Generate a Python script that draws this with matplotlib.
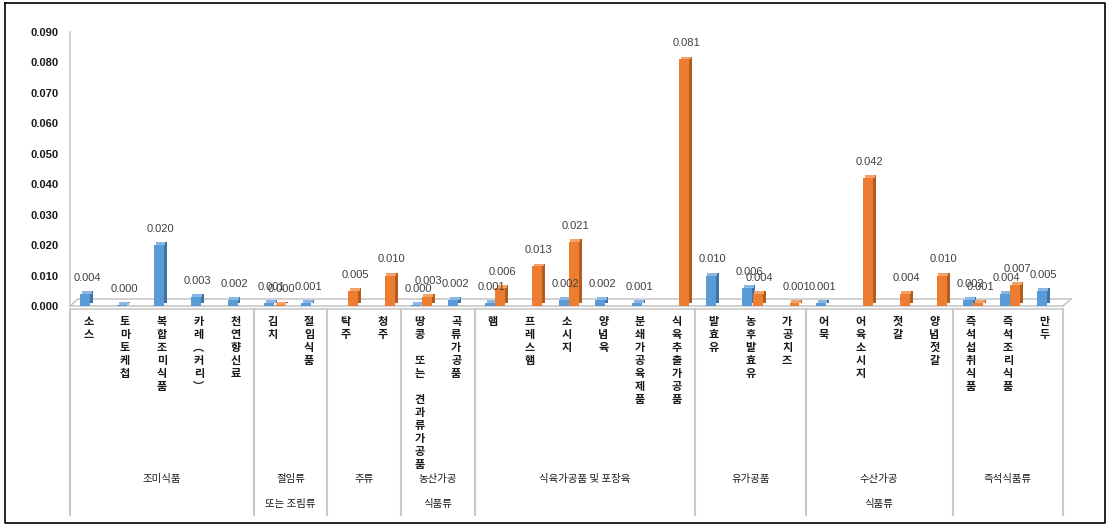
import numpy as np
from matplotlib import pyplot as plt
from matplotlib import transforms

plt.rcParams['font.family'] = ['Noto Sans CJK KR', 'DejaVu Sans']

# 카테고리 (하위) 와 그룹 (상위)
categories = ['소스', '토마토케첩', '복합조미식품', '카레︵커리︶', '천연향신료',
              '김치', '절임식품',
              '탁주', '청주',
              '땅콩 또는 견과류가공품', '곡류가공품',
              '햄', '프레스햄', '소시지', '양념육', '분쇄가공육제품', '식육추출가공품',
              '발효유', '농후발효유', '가공치즈',
              '어묵', '어육소시지', '젓갈', '양념젓갈',
              '즉석섭취식품', '즉석조리식품', '만두']
groups = ['조미식품', '절임류\n또는 조림류', '주류', '농산가공\n식품류',
          '식육가공품 및 포장육', '유가공품', '수산가공\n식품류', '즉석식품류']
group_sizes = [5, 2, 2, 2, 6, 3, 4, 3]

nan = np.nan
blue = [0.004, 0.0003, 0.020, 0.003, 0.002,
        0.001, 0.001,
        nan, nan,
        0.0003, 0.002,
        0.001, nan, 0.002, 0.002, 0.001, nan,
        0.010, 0.006, nan,
        0.001, nan, nan, nan,
        0.002, 0.004, 0.005]
orange = [nan, nan, nan, nan, nan,
          0.0003, nan,
          0.005, 0.010,
          0.003, nan,
          0.006, 0.013, 0.021, nan, nan, 0.081,
          nan, 0.004, 0.001,
          nan, 0.042, 0.004, 0.010,
          0.001, 0.007, nan]
blue_labels = ['0.004', '0.000', '0.020', '0.003', '0.002', '0.001', '0.001', '', '',
               '0.000', '0.002', '0.001', '', '0.002', '0.002', '0.001', '',
               '0.010', '0.006', '', '0.001', '', '', '', '0.002', '0.004', '0.005']
orange_labels = ['', '', '', '', '', '0.000', '', '0.005', '0.010', '0.003', '',
                 '0.006', '0.013', '0.021', '', '', '0.081', '', '0.004', '0.001',
                 '', '0.042', '0.004', '0.010', '0.001', '0.007', '']

num_font = ['Liberation Sans Narrow', 'Liberation Sans', 'DejaVu Sans']

W, H = 1108, 526
fig = plt.figure(figsize=(W / 100, H / 100), dpi=100)
deco = fig.add_axes([0, 0, 1, 1], zorder=0)
deco.set_xlim(0, W)
deco.set_ylim(H, 0)
deco.axis('off')

ax_l, ax_r, ax_top, ax_bot = 70, 1063, 32, 306
ax = fig.add_axes([ax_l / W, (H - ax_bot) / H, (ax_r - ax_l) / W, (ax_bot - ax_top) / H], zorder=1)
ax.patch.set_alpha(0)
n = len(categories)
x = np.arange(n)
ax.set_xlim(-0.5, n - 0.5)
ax.set_ylim(0, 0.09)
yt = np.arange(0, 0.0901, 0.01)
ax.set_yticks(yt)
ax.set_yticklabels([f'{v:.3f}' for v in yt], family=num_font, fontsize=8,
                   fontweight='bold', color='#1a1a1a')
ax.tick_params(axis='y', length=0, pad=8)
ax.set_xticks([])
for s in ['top', 'right', 'bottom']:
    ax.spines[s].set_visible(False)
ax.spines['left'].set_color('#c8c8c8')
ax.spines['left'].set_linewidth(1.2)

w, sw, depth = 0.27, 0.08, 0.0009
series = [(blue, blue_labels, -0.08, '#5b9bd5', '#3f73a6', '#8ab8e6'),
          (orange, orange_labels, 0.2, '#ed7d31', '#b35c1f', '#f4a266')]
for vals, labs, off, c, dark, light in series:
    vals = np.array(vals)
    ax.bar(x + off, vals, width=w, color=c, zorder=3)
    ax.bar(x + off + w / 2 + sw / 2, vals, width=sw, bottom=depth, color=dark, zorder=2)
    ax.bar(x + off + sw / 2, np.where(np.isnan(vals), nan, depth), width=w, bottom=vals,
           color=light, zorder=2)
    for i, (v, t) in enumerate(zip(vals, labs)):
        if not np.isnan(v):
            ax.annotate(t, (x[i] + off + 0.05, v), xytext=(0, 8), textcoords='offset points',
                        ha='center', va='bottom', fontsize=8, color='#404040',
                        family=num_font, zorder=5)

# 3D 바닥
gray = '#c8c8c8'
deco.plot([ax_l, ax_r], [306, 306], color=gray, lw=1.2)
deco.plot([ax_l + 8, ax_r + 8], [299, 299], color=gray, lw=1.2)
deco.plot([ax_l, ax_l + 8], [306, 299], color=gray, lw=1.2)
deco.plot([ax_r, ax_r + 8], [306, 299], color=gray, lw=1.2)

# 카테고리 축 상자
deco.plot([ax_l, ax_r], [309, 309], color=gray, lw=1.2)
bounds = np.concatenate([[0], np.cumsum(group_sizes)]) - 0.5
blend = transforms.blended_transform_factory(ax.transData, deco.transData)
for b in bounds:
    deco.plot([b, b], [309, 515], color=gray, lw=1.5, transform=blend)

for i, name in enumerate(categories):
    txt = '\n'.join(ch if ch != ' ' else '' for ch in name)
    deco.text(x[i], 315, txt, transform=blend, ha='center', va='top', fontsize=8,
              fontweight='bold', linespacing=1.0, color='#1a1a1a')

for k, g in enumerate(groups):
    cx = (bounds[k] + bounds[k + 1]) / 2
    deco.text(cx, 474, g, transform=blend, ha='center', va='top', fontsize=7.5,
              linespacing=2.9, color='#1a1a1a')

# 바깥 테두리
deco.plot([5, 1105, 1105, 5, 5], [3, 3, 523, 523, 3], color='black', lw=1.2)

fig.savefig('out.png', dpi=100)
